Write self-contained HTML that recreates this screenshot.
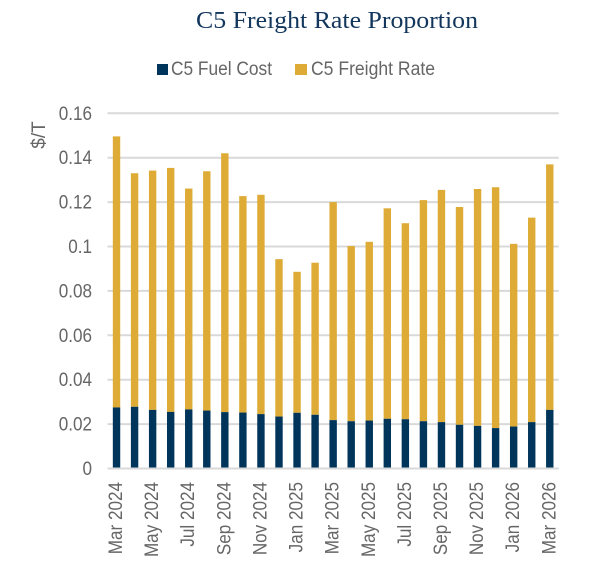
<!DOCTYPE html>
<html lang="en">
<head>
<meta charset="utf-8">
<title>C5 Freight Rate Proportion</title>
<style>
html,body{margin:0;padding:0;background:#fff;width:603px;height:579px;overflow:hidden}
svg{display:block}
text{font-family:"Liberation Sans",sans-serif;fill:#666}
</style>
</head>
<body>
<svg id="chart" width="603" height="579" viewBox="0 0 603 579" xmlns="http://www.w3.org/2000/svg">
  <text x="337" y="28" text-anchor="middle" textLength="282" lengthAdjust="spacingAndGlyphs" style="font-family:'Liberation Serif',serif;font-size:24px;fill:#12365c">C5 Freight Rate Proportion</text>
  <g>
    <rect x="157" y="64" width="11" height="11" fill="#00355b"/>
    <text x="171" y="75" textLength="101" lengthAdjust="spacingAndGlyphs" style="font-size:19px">C5 Fuel Cost</text>
    <rect x="295" y="64" width="12" height="11" fill="#deac36"/>
    <text x="311" y="75" textLength="124" lengthAdjust="spacingAndGlyphs" style="font-size:19px">C5 Freight Rate</text>
  </g>
  <text transform="translate(45,135) rotate(-90)" text-anchor="middle" style="font-size:19px">$/T</text>
  <g id="grid"></g>
  <g id="bars"></g>
  <g id="yticks"></g>
  <g id="xticks"></g>
</svg>
<script>
var categories = ["Mar 2024","Apr 2024","May 2024","Jun 2024","Jul 2024","Aug 2024","Sep 2024","Oct 2024","Nov 2024","Dec 2024","Jan 2025","Feb 2025","Mar 2025","Apr 2025","May 2025","Jun 2025","Jul 2025","Aug 2025","Sep 2025","Oct 2025","Nov 2025","Dec 2025","Jan 2026","Feb 2026","Mar 2026"];
var fuelCost = [0.0275,0.0278,0.0264,0.0255,0.0266,0.0261,0.0254,0.0252,0.0245,0.0234,0.0251,0.0242,0.0218,0.0213,0.0216,0.0224,0.0222,0.0213,0.0209,0.0197,0.0192,0.0182,0.0189,0.0209,0.0264];
var freightRate = [0.1221,0.1052,0.1078,0.1099,0.0995,0.1078,0.1166,0.0975,0.0988,0.0709,0.0635,0.0685,0.0982,0.0789,0.0805,0.0948,0.0883,0.0996,0.1046,0.0981,0.1067,0.1085,0.0823,0.0921,0.1106];
var yTickValues = [0,0.02,0.04,0.06,0.08,0.1,0.12,0.14,0.16];
var yTickLabels = ["0","0.02","0.04","0.06","0.08","0.1","0.12","0.14","0.16"];

var NS = "http://www.w3.org/2000/svg";
var plotLeft = 107.5, plotRight = 558.8, plotTop = 113.3, plotBottom = 468.5, yMax = 0.16, barWidth = 7.4;
function yScale(v){ return plotBottom - (v / yMax) * (plotBottom - plotTop); }
function xScale(i){ return plotLeft + (i + 0.5) * (plotRight - plotLeft) / categories.length; }
function make(tag, attrs){
  var el = document.createElementNS(NS, tag);
  for (var k in attrs) el.setAttribute(k, attrs[k]);
  return el;
}
var grid = document.getElementById("grid");
var yticks = document.getElementById("yticks");
var xticks = document.getElementById("xticks");
var bars = document.getElementById("bars");

yTickValues.forEach(function(v, i){
  var line = make("line", {x1: plotLeft, x2: plotRight, y1: yScale(v), y2: yScale(v), stroke: "#d9d9d9", "stroke-width": 2});
  
  
  grid.appendChild(line);
  var t = make("text", {transform: "translate(92," + (yScale(v) + 6.5) + ") scale(0.9,1)", "text-anchor": "end"});
  
  
  t.style.fontSize = "19px";
  t.textContent = yTickLabels[i];
  yticks.appendChild(t);
});

categories.forEach(function(c, i){
  var x = xScale(i) - barWidth / 2;
  var fuelTop = yScale(fuelCost[i]);
  var totalTop = yScale(fuelCost[i] + freightRate[i]);
  var r2 = make("rect", {x: x, y: totalTop, width: barWidth, height: fuelTop - totalTop, fill: "#deac36"});
  
  
  bars.appendChild(r2);
  var r1 = make("rect", {x: x, y: fuelTop, width: barWidth, height: plotBottom - fuelTop - 1, fill: "#00355b"});
  
  
  bars.appendChild(r1);
  if (i % 2 === 0) {
    var t = make("text", {transform: "translate(" + (xScale(i) + 5.5) + ",482) rotate(-90) scale(0.9,1)", "text-anchor": "end"});
    
    
    t.style.fontSize = "19px";
    t.textContent = c;
    xticks.appendChild(t);
  }
});
</script>
</body>
</html>
